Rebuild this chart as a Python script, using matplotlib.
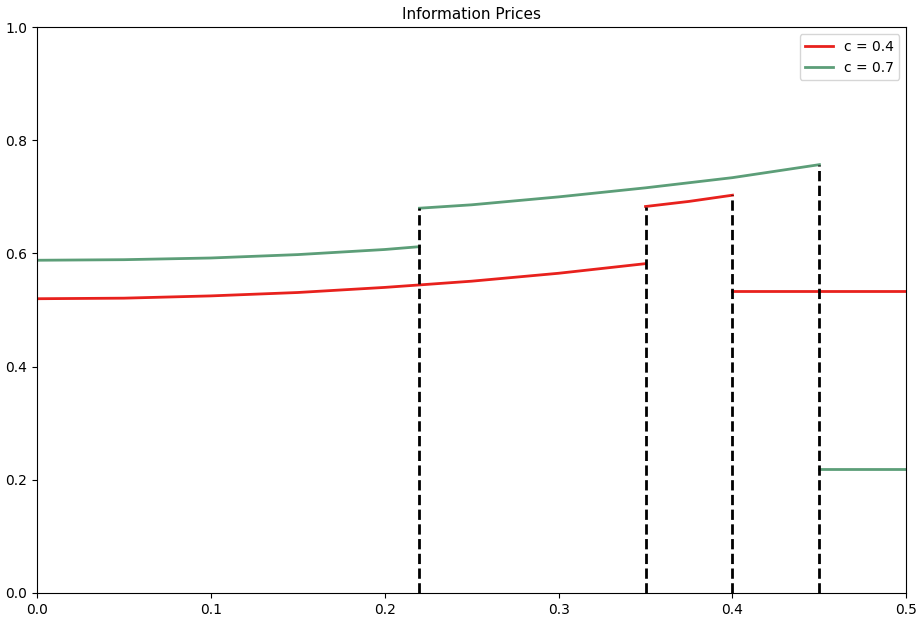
import numpy as np
import matplotlib
matplotlib.use('Agg')
import matplotlib.pyplot as plt

# c = 0.4 (red), piecewise
red_x1 = [0.0, 0.05, 0.1, 0.15, 0.2, 0.25, 0.3, 0.35]
red_y1 = [0.520, 0.521, 0.525, 0.531, 0.540, 0.551, 0.565, 0.582]
red_x2 = [0.35, 0.375, 0.4]
red_y2 = [0.683, 0.692, 0.703]
red_x3 = [0.4, 0.5]
red_y3 = [0.533, 0.533]

# c = 0.7 (green), piecewise
green_x1 = [0.0, 0.05, 0.1, 0.15, 0.2, 0.22]
green_y1 = [0.588, 0.589, 0.592, 0.598, 0.607, 0.612]
green_x2 = [0.22, 0.25, 0.3, 0.35, 0.4, 0.45]
green_y2 = [0.680, 0.686, 0.700, 0.716, 0.734, 0.757]
green_x3 = [0.45, 0.5]
green_y3 = [0.219, 0.219]

# jump points (dashed verticals) and their tops
jump_x = [0.22, 0.35, 0.4, 0.45]
jump_top = [0.680, 0.683, 0.703, 0.757]

red = '#e8211d'
green = '#5c9e78'

fig = plt.figure(figsize=(9.23, 6.17), dpi=100)
ax = fig.add_axes([0.040, 0.039, 0.942, 0.917])

ax.plot(red_x1, red_y1, color=red, lw=2, label='c = 0.4')
ax.plot(red_x2, red_y2, color=red, lw=2)
ax.plot(red_x3, red_y3, color=red, lw=2)
ax.plot(green_x1, green_y1, color=green, lw=2, label='c = 0.7')
ax.plot(green_x2, green_y2, color=green, lw=2)
ax.plot(green_x3, green_y3, color=green, lw=2)

for x, top in zip(jump_x, jump_top):
    ax.plot([x, x], [0, top], color='black', lw=2, ls='--')

ax.set_xlim(0, 0.5)
ax.set_ylim(0, 1)
ax.set_title('Information Prices', fontsize=11)
ax.legend(loc='upper right')

fig.savefig('out.png', dpi=100)
